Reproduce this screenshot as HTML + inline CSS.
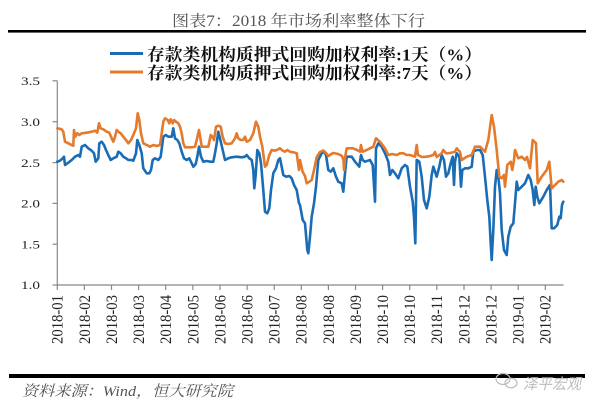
<!DOCTYPE html>
<html><head><meta charset="utf-8">
<style>
html,body{margin:0;padding:0;background:#fff;}
svg{display:block;}
</style></head>
<body>
<svg width="600" height="408" viewBox="0 0 600 408" xmlns="http://www.w3.org/2000/svg">
<rect width="600" height="408" fill="#fff"/>
<!-- title -->
<text x="172" y="26" font-family="'Liberation Serif','Noto Serif CJK SC',serif" font-size="15.5" fill="#555" textLength="253" lengthAdjust="spacingAndGlyphs">图表7：2018 年市场利率整体下行</text>
<rect x="8" y="30" width="578" height="2.6" fill="#000"/>
<!-- legend -->
<line x1="110" y1="53.5" x2="143" y2="53.5" stroke="#1a6db5" stroke-width="3"/>
<line x1="110" y1="72" x2="143" y2="72" stroke="#e47a2c" stroke-width="3"/>
<text x="147" y="60.5" font-family="'Liberation Serif','Noto Serif CJK SC',serif" font-weight="bold" font-size="17" fill="#111" textLength="335" lengthAdjust="spacingAndGlyphs">存款类机构质押式回购加权利率:1天（%）</text>
<text x="147" y="79" font-family="'Liberation Serif','Noto Serif CJK SC',serif" font-weight="bold" font-size="17" fill="#111" textLength="335" lengthAdjust="spacingAndGlyphs">存款类机构质押式回购加权利率:7天（%）</text>
<!-- axes -->
<g stroke="#888" stroke-width="1.2" fill="none">
<line x1="57.3" y1="80.8" x2="57.3" y2="285"/>
<line x1="57.3" y1="285" x2="563.5" y2="285"/>
<line x1="52.5" y1="80.8" x2="57.3" y2="80.8"/>
<line x1="52.5" y1="121.7" x2="57.3" y2="121.7"/>
<line x1="52.5" y1="162.6" x2="57.3" y2="162.6"/>
<line x1="52.5" y1="203.4" x2="57.3" y2="203.4"/>
<line x1="52.5" y1="244.2" x2="57.3" y2="244.2"/>
<line x1="52.5" y1="285" x2="57.3" y2="285"/>
</g>
<g stroke="#888" stroke-width="1.2">
<line x1="57.3" y1="285" x2="57.3" y2="290"/>
<line x1="84.4" y1="285" x2="84.4" y2="290"/>
<line x1="111.5" y1="285" x2="111.5" y2="290"/>
<line x1="138.6" y1="285" x2="138.6" y2="290"/>
<line x1="165.7" y1="285" x2="165.7" y2="290"/>
<line x1="192.9" y1="285" x2="192.9" y2="290"/>
<line x1="220" y1="285" x2="220" y2="290"/>
<line x1="247.1" y1="285" x2="247.1" y2="290"/>
<line x1="274.2" y1="285" x2="274.2" y2="290"/>
<line x1="301.3" y1="285" x2="301.3" y2="290"/>
<line x1="328.4" y1="285" x2="328.4" y2="290"/>
<line x1="355.5" y1="285" x2="355.5" y2="290"/>
<line x1="382.6" y1="285" x2="382.6" y2="290"/>
<line x1="409.7" y1="285" x2="409.7" y2="290"/>
<line x1="436.8" y1="285" x2="436.8" y2="290"/>
<line x1="464" y1="285" x2="464" y2="290"/>
<line x1="491.1" y1="285" x2="491.1" y2="290"/>
<line x1="518.2" y1="285" x2="518.2" y2="290"/>
<line x1="545.3" y1="285" x2="545.3" y2="290"/>
</g>
<!-- y labels -->
<g font-family="'Liberation Serif',serif" font-size="12" fill="#222" text-anchor="end">
<text x="40" y="85" textLength="19" lengthAdjust="spacingAndGlyphs">3.5</text>
<text x="40" y="125.9" textLength="19" lengthAdjust="spacingAndGlyphs">3.0</text>
<text x="40" y="166.8" textLength="19" lengthAdjust="spacingAndGlyphs">2.5</text>
<text x="40" y="207.6" textLength="19" lengthAdjust="spacingAndGlyphs">2.0</text>
<text x="40" y="248.4" textLength="19" lengthAdjust="spacingAndGlyphs">1.5</text>
<text x="40" y="289.2" textLength="19" lengthAdjust="spacingAndGlyphs">1.0</text>
</g>
<!-- x labels -->
<g font-family="'Liberation Serif',serif" font-size="16" fill="#222" text-anchor="end">
<text transform="translate(62.7,295) rotate(-90)" textLength="49" lengthAdjust="spacingAndGlyphs">2018-01</text>
<text transform="translate(89.8,295) rotate(-90)" textLength="49" lengthAdjust="spacingAndGlyphs">2018-02</text>
<text transform="translate(116.9,295) rotate(-90)" textLength="49" lengthAdjust="spacingAndGlyphs">2018-03</text>
<text transform="translate(144,295) rotate(-90)" textLength="49" lengthAdjust="spacingAndGlyphs">2018-03</text>
<text transform="translate(171.1,295) rotate(-90)" textLength="49" lengthAdjust="spacingAndGlyphs">2018-04</text>
<text transform="translate(198.3,295) rotate(-90)" textLength="49" lengthAdjust="spacingAndGlyphs">2018-05</text>
<text transform="translate(225.4,295) rotate(-90)" textLength="49" lengthAdjust="spacingAndGlyphs">2018-06</text>
<text transform="translate(252.5,295) rotate(-90)" textLength="49" lengthAdjust="spacingAndGlyphs">2018-06</text>
<text transform="translate(279.6,295) rotate(-90)" textLength="49" lengthAdjust="spacingAndGlyphs">2018-07</text>
<text transform="translate(306.7,295) rotate(-90)" textLength="49" lengthAdjust="spacingAndGlyphs">2018-08</text>
<text transform="translate(333.8,295) rotate(-90)" textLength="49" lengthAdjust="spacingAndGlyphs">2018-08</text>
<text transform="translate(360.9,295) rotate(-90)" textLength="49" lengthAdjust="spacingAndGlyphs">2018-09</text>
<text transform="translate(388,295) rotate(-90)" textLength="49" lengthAdjust="spacingAndGlyphs">2018-10</text>
<text transform="translate(415.1,295) rotate(-90)" textLength="49" lengthAdjust="spacingAndGlyphs">2018-10</text>
<text transform="translate(442.2,295) rotate(-90)" textLength="49" lengthAdjust="spacingAndGlyphs">2018-11</text>
<text transform="translate(469.4,295) rotate(-90)" textLength="49" lengthAdjust="spacingAndGlyphs">2018-12</text>
<text transform="translate(496.5,295) rotate(-90)" textLength="49" lengthAdjust="spacingAndGlyphs">2018-12</text>
<text transform="translate(523.6,295) rotate(-90)" textLength="49" lengthAdjust="spacingAndGlyphs">2019-01</text>
<text transform="translate(550.7,295) rotate(-90)" textLength="49" lengthAdjust="spacingAndGlyphs">2019-02</text>
</g>
<!-- blue series -->
<polyline fill="none" stroke="#1a6db5" stroke-width="2.6" stroke-linejoin="round" stroke-linecap="round" points="57.3,161.7 60,160.7 62.7,158.3 64,156.7 65,165 68.3,162.7 71.7,160 75,156.7 78.3,155 80,156.7 81.7,146.7 85,145 88.3,148.3 91.7,150.7 94,153.3 95.7,161.7 98.3,158.3 99.3,143.3 101.7,141.7 104,145 106,150 108.3,155 110.7,160 113.3,158.3 116.7,156.7 118.3,151.7 120.7,153.3 123.3,156.7 126,158.3 128.3,160 131.7,160 133.3,160.7 136,153.3 137.3,140 139.3,145 141.7,153.3 143.3,168.3 146.7,173.3 149.3,173.3 151,170 152.7,160 155,158.3 158.3,160 160.7,156.7 163.3,136.7 165.7,135 168.3,136.7 171.7,136.7 173.3,128.3 175,138.3 177.3,140 179.3,143.3 181.7,151.7 184,158.3 186.7,160 189.3,158.3 191.7,163.3 193.3,166.7 195.7,164 197.3,156.7 199,146.7 201,156.7 203.3,161.7 206.7,161 210,161.7 213.3,161.7 215,153.3 216.7,143.3 218.3,131.7 220,138.3 222.7,150 225,160 228.3,158.3 231.7,157.3 236.7,156.7 241.7,157.3 245,156.7 246.7,155 249.3,158.3 251.7,160 253.3,170 254.3,188.3 255.7,175 257.3,150 259.3,153.3 261,163.3 263.3,190 265,211.7 267.3,213.3 269.3,208.3 271,190 273.3,173.3 276,168.3 278.3,160 280,158.3 281.7,166.7 283.3,175 286,176.7 289.3,176 291.7,178.3 294,185 296.7,190 299,203.3 300,205 302.7,220 305,223.3 307.3,250 308.3,253.3 310,236.7 311.7,216.7 314,203.3 316,186.7 318.3,160 321.7,153.3 324,151.7 326,155 328.3,170 330.7,171.7 333.3,168.3 336,176.7 338.3,181.7 341.7,183.3 343.3,191.7 345,173.3 346.7,156.7 351.7,156.7 355,161.7 359.3,166.7 361,155 362.7,160 365,161.7 370,160 372.7,165 375,201.7 376,148.3 378.3,143.3 381.7,146.7 385,153.3 388.3,161.7 390,175 392.3,170 395,173.3 398.3,178.3 401.7,168.3 405,165 407.3,166.7 410,186.7 412.7,201.7 414,216.7 415.3,243.3 416.7,160 419.3,161.7 421.7,176.7 424,200 426.7,208.3 429.3,196.7 431.7,175 433.3,166.7 435,171.7 436.7,176.7 439.3,166.7 441.7,155 444,160 446,176.7 448.3,173.3 450.7,163.3 452.7,156.7 454,185 455,161.7 456.7,153.3 459.3,156.7 461,186.7 462.3,170 465,168.3 468.3,168.3 471.7,166.7 473.3,151.7 476.7,150 480,150 482.7,155 485,176.7 487.3,200 489.3,216.7 490.7,243.3 491.7,260 493.3,230 495,186.7 496.7,170 498.3,176.7 500,193.3 501.7,230 504,250 506.7,255 508.3,236.7 510.7,226.7 513.3,223.3 515,203.3 516.7,181.7 518.3,190 521.7,186.7 525,183.3 528.3,175 530.7,180 532.7,190 534.3,205 535.7,186.7 537.3,196.7 539.3,203.3 543.3,196.7 546.7,190 550,185 551.7,228.3 554,228.3 557.3,225 559.3,216.7 560.7,218.3 562,205 563.3,201.7"/>
<!-- orange series -->
<polyline fill="none" stroke="#e47a2c" stroke-width="2.6" stroke-linejoin="round" stroke-linecap="round" points="57.3,128.3 61.7,129.3 63.3,131.7 65,141.7 68.3,143.3 71.7,145 73.3,145.7 74,130 75.3,136.7 77.3,133.3 79.3,135 81.7,133.3 86.7,132.7 91.7,131.7 95,130.7 97.3,132.7 99,123.3 100.7,128.3 103.3,129.3 106.7,131.7 109.3,132.7 111.7,138.3 113.3,141.7 115,136.7 116.7,130 118.3,131.7 120.7,133.3 123.3,136.7 126,140 128.3,143.3 131,140 133.3,135 136,128.3 137.7,113.3 139.3,120 141,133.3 143.3,143.3 146.7,145 150,146.7 153.3,145 156.7,146 160,145 161.7,133.3 163.3,121.7 165,118.3 167.7,120 169.3,123.3 170.7,119.3 172.7,123.3 174,120 176,121.7 178.3,123.3 180,126.7 181.7,133.3 183.3,143.3 185,147.3 188.3,147.3 191.7,147.3 195,146.7 196.7,140 199,130 200.7,140 201.7,146.7 205,146.7 208.3,146.7 210.7,135 212.3,136.7 214,140 216,126.7 218.3,125.7 220.7,126.7 222.7,136.7 225,143.3 228.3,144 231.7,143.3 235,138.3 236.7,133.3 238.3,138.3 240.7,140 243.3,140 245,136.7 246.7,141.7 250,140 253.3,133.3 256,121.7 258.3,126.7 260,136.7 262.3,146.7 265,166.7 266.7,165 269.3,155 271.7,150 275,150.7 278.3,149.3 280,148.3 282.7,150.7 285,151.7 287.3,150 290,151.7 293.3,152.3 296.7,153.3 299,170 300,160 302.7,172 305,176 306.7,183.3 309,182 311.7,180 314,170 316.7,157 320,152 323.3,150.5 326,153 328.3,156 333,153 338.3,154 342,156 343.5,160 344,170 345.5,155 346.7,148.3 353,148.3 357,150 360,151.7 361,145 362.5,151.7 366.7,150 370,148.3 373.3,146.7 376,138.3 380,141.7 385,148.3 388.3,155 392,154 396.7,155 400,153.3 403.3,153.3 406.7,155 410,155 415,156.7 416.7,145 418,155 422,157 426.7,156.7 430,156 433.3,155 435,152 436.7,157 441.7,153.3 443.3,150 446,153.3 450,153 455,151.7 456.7,148.3 460,152 461.7,160 466.7,156.7 471.7,155 475,146.7 480,146.7 485,151.7 488.3,140 491.7,115 494,126.7 496.7,150 499.3,176.7 501.7,178.3 504,175 505,186.7 507.3,165 510.7,161.7 512.3,170 514,160 515,150 518.3,158.3 521.7,156.7 525,160 527,157 530,168.3 532.7,140 536,143.3 537.7,183.3 541.7,176.7 546.7,170 549.3,161.7 551.7,188.3 555,185 558.3,181.7 561.7,180 563.3,181.7"/>
<!-- footer -->
<rect x="9" y="374" width="576" height="4" fill="#000"/>
<text x="22" y="396" font-family="'Liberation Serif','Noto Serif CJK SC',serif" font-style="italic" font-size="15" fill="#555" textLength="211" lengthAdjust="spacingAndGlyphs">资料来源：Wind，恒大研究院</text>
<!-- watermark -->
<g fill="none" stroke="#bbb" stroke-width="1.2">
<ellipse cx="503" cy="379" rx="7" ry="5.5"/>
<ellipse cx="511" cy="383" rx="6" ry="4.8"/>
</g>
<text x="523" y="389" font-family="'Liberation Sans','Noto Sans CJK SC',sans-serif" font-style="italic" font-size="15" fill="#bbb" textLength="58" lengthAdjust="spacingAndGlyphs">泽平宏观</text>
</svg>
</body></html>
